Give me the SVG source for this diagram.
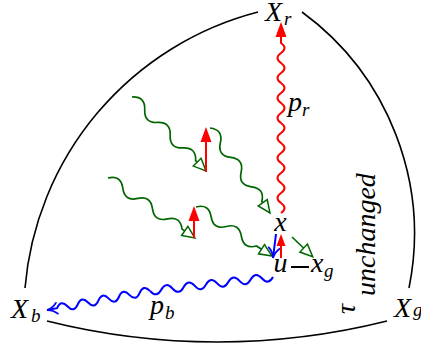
<svg xmlns="http://www.w3.org/2000/svg" width="421" height="347" viewBox="0 0 421 347">
<style>
text{font-family:"Liberation Serif","Times New Roman",serif;font-style:italic;fill:#000}
.m{font-size:28px}
.s{font-size:19px}
.arc{fill:none;stroke:#000;stroke-width:1.6}
.g{fill:none;stroke:#006600;stroke-width:1.7;marker-end:url(#gh)}
.r{fill:none;stroke:#ff0000;stroke-width:2}
.b{fill:none;stroke:#0000ff;stroke-width:2}
</style>
<defs>
<marker id="gh" markerUnits="userSpaceOnUse" viewBox="-16 -9 20 18" markerWidth="20" markerHeight="18" refX="0" refY="0" orient="auto">
<path d="M1,0 L-11.5,-5.5 L-11.5,5.5 Z" fill="#fff" stroke="#006600" stroke-width="1.5"/>
</marker>
<marker id="rh" markerUnits="userSpaceOnUse" viewBox="-15 -8 22 16" markerWidth="22" markerHeight="16" refX="0" refY="0" orient="auto">
<path d="M4,0 L-11,-5.5 L-11,5.5 Z" fill="#ff0000"/>
</marker>
<marker id="rs" markerUnits="userSpaceOnUse" viewBox="-15 -8 22 16" markerWidth="22" markerHeight="16" refX="0" refY="0" orient="auto">
<path d="M3,0 L-9,-4.5 L-9,4.5 Z" fill="#ff0000"/>
</marker>
<marker id="bh" markerUnits="userSpaceOnUse" viewBox="-14 -8 18 16" markerWidth="18" markerHeight="16" refX="0" refY="0" orient="auto">
<path d="M-10,-5.5 C-7,-2 -3,-0.5 0,0 C-3,0.5 -7,2 -10,5.5" fill="none" stroke="#0000ff" stroke-width="1.8" stroke-linecap="round"/>
</marker>
</defs>

<g id="boundary">
<path class="arc" d="M25,288 A312,312 0 0 1 258,12"/>
<path class="arc" d="M302,12 A275,275 0 0 1 409,288"/>
<path class="arc" d="M47,321 A700,700 0 0 0 387,321"/>
</g>

<g id="connectors">
<path class="g" transform="translate(132,97) rotate(45)" d="M0,0 q9,-10 18,0 t18,0 t18,0 t18,0 t18,0 l13.7,0"/>
<path class="g" transform="translate(210,128) rotate(54.8)" d="M0,0 q9,-10 18,0 t18,0 t18,0 t18,0 t18,0 l13,0"/>
<path class="g" transform="translate(108,178) rotate(34.6)" d="M0,0 q9,-10 18,0 t18,0 t18,0 t18,0 t18,0 l14.7,0"/>
<path class="g" transform="translate(196,207) rotate(32.8)" d="M0,0 q9,-10 18,0 t18,0 t18,0 t18,0 l17.4,0"/>
<path class="g" d="M292,237 L312,256"/>
<path class="b" transform="translate(273,277) rotate(173.5)" d="M0,0 q5.625,-8 11.25,0 t11.25,0 t11.25,0 t11.25,0 t11.25,0 t11.25,0 t11.25,0 t11.25,0 t11.25,0 t11.25,0 t11.25,0"/>
<path class="b" transform="translate(150,291) rotate(169.5)" marker-end="url(#bh)" d="M0,0 q5.25,8 10.5,0 t10.5,0 t10.5,0 t10.5,0 t10.5,0 t10.5,0 t10.5,0 t10.5,0 t10.5,0 l10.2,0"/>
<path class="b" marker-end="url(#bh)" d="M276,234 L273,258"/>
<path class="r" transform="translate(281,213) rotate(-90)" marker-end="url(#rh)" d="M0,0 q5,7 10,0 t10,0 t10,0 t10,0 t10,0 t10,0 t10,0 t10,0 t10,0 t10,0 t10,0 t10,0 t10,0 t10,0 t10,0 t10,0 t10,0 l17,0"/>
<path class="r" marker-end="url(#rh)" d="M206,172 L206,131"/>
<path class="r" marker-end="url(#rh)" d="M194,238 L194,210"/>
<path class="r" marker-end="url(#rs)" d="M281,258 L281,237"/>
<path d="M291,267 L309,267" stroke="#000" stroke-width="2"/>
</g>

<g id="Xb"><text class="m" x="11" y="318">X</text><text class="s" x="31" y="322">b</text></g>
<g id="Xr"><text class="m" x="265" y="21">X</text><text class="s" x="284" y="25">r</text></g>
<g id="Xg"><text class="m" x="394" y="317">X</text><text class="s" x="413" y="316">g</text></g>
<g id="x"><text class="m" x="280.5" y="231" text-anchor="middle">x</text></g>
<g id="u"><text class="m" x="280.5" y="272" text-anchor="middle">u</text></g>
<g id="xg"><text class="m" x="311" y="272">x</text><text class="s" x="324" y="277">g</text></g>
<g id="pr"><text class="m" x="288" y="111">p</text><text class="s" x="302" y="116">r</text></g>
<g id="pb"><text class="m" x="150" y="314">p</text><text class="s" x="165" y="319">b</text></g>
<g id="note">
<text class="m" transform="translate(355,314) rotate(-90)">τ</text>
<text class="m" transform="translate(375,296) rotate(-90)">unchanged</text>
</g>
</svg>
